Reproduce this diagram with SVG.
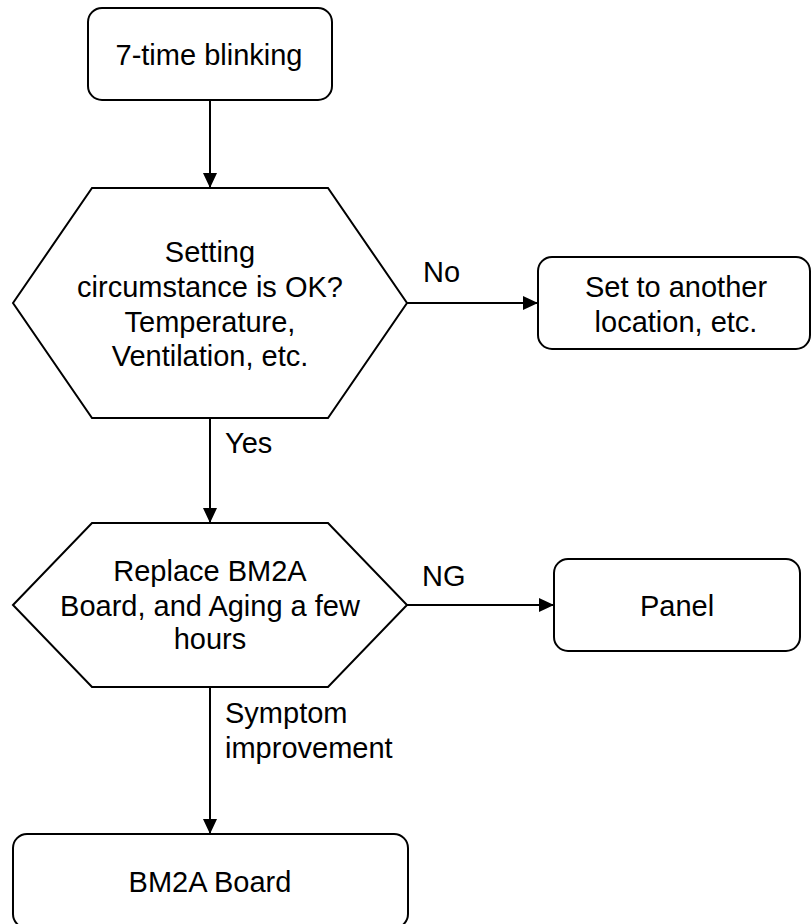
<svg xmlns="http://www.w3.org/2000/svg" width="811" height="924" viewBox="0 0 811 924">
<defs>
<style>
.n{fill:#fff;stroke:#000;stroke-width:2}
.t{font-family:"Liberation Sans",Arial,sans-serif;font-size:29px;fill:#000;text-anchor:middle}
.l{font-family:"Liberation Sans",Arial,sans-serif;font-size:29px;fill:#000}
.c{fill:none;stroke:#000;stroke-width:2}
</style>
<marker id="ah" viewBox="0 0 15 14" refX="15" refY="7" markerWidth="15" markerHeight="14" markerUnits="userSpaceOnUse" orient="auto">
<path d="M0,0 L15,7 L0,14 Z" fill="#000"/>
</marker>
</defs>
<rect width="811" height="924" fill="#fff"/>
<g id="connectors">
<line class="c" x1="210" y1="100" x2="210" y2="188" marker-end="url(#ah)"/>
<line class="c" x1="407" y1="303" x2="538" y2="303" marker-end="url(#ah)"/>
<line class="c" x1="210" y1="418" x2="210" y2="523" marker-end="url(#ah)"/>
<line class="c" x1="407" y1="605" x2="554" y2="605" marker-end="url(#ah)"/>
<line class="c" x1="210" y1="687" x2="210" y2="834" marker-end="url(#ah)"/>
<text class="l" x="423" y="282">No</text>
<text class="l" x="225" y="453">Yes</text>
<text class="l" x="422" y="586">NG</text>
<text class="l" x="225" y="723">Symptom</text>
<text class="l" x="225" y="758">improvement</text>
</g>
<g id="start">
<rect class="n" x="88" y="8" width="244" height="92" rx="14"/>
<text class="t" x="209" y="65">7-time blinking</text>
</g>
<g id="check-setting">
<polygon class="n" points="13,303 92,188 328,188 407,303 328,418 92,418"/>
<text class="t" x="210" y="262">Setting</text>
<text class="t" x="210" y="297">circumstance is OK?</text>
<text class="t" x="210" y="332">Temperature,</text>
<text class="t" x="210" y="366">Ventilation, etc.</text>
</g>
<g id="relocate">
<rect class="n" x="538" y="257" width="272" height="92" rx="14"/>
<text class="t" x="676" y="297">Set to another</text>
<text class="t" x="676" y="332">location, etc.</text>
</g>
<g id="replace-board">
<polygon class="n" points="13,605 92,523 328,523 407,605 328,687 92,687"/>
<text class="t" x="210" y="581">Replace BM2A</text>
<text class="t" x="210" y="616">Board, and Aging a few</text>
<text class="t" x="210" y="649">hours</text>
</g>
<g id="panel">
<rect class="n" x="554" y="559" width="246" height="92" rx="14"/>
<text class="t" x="677" y="616">Panel</text>
</g>
<g id="bm2a-board">
<rect class="n" x="13" y="834" width="395" height="94" rx="14"/>
<text class="t" x="210" y="892">BM2A Board</text>
</g>
</svg>
